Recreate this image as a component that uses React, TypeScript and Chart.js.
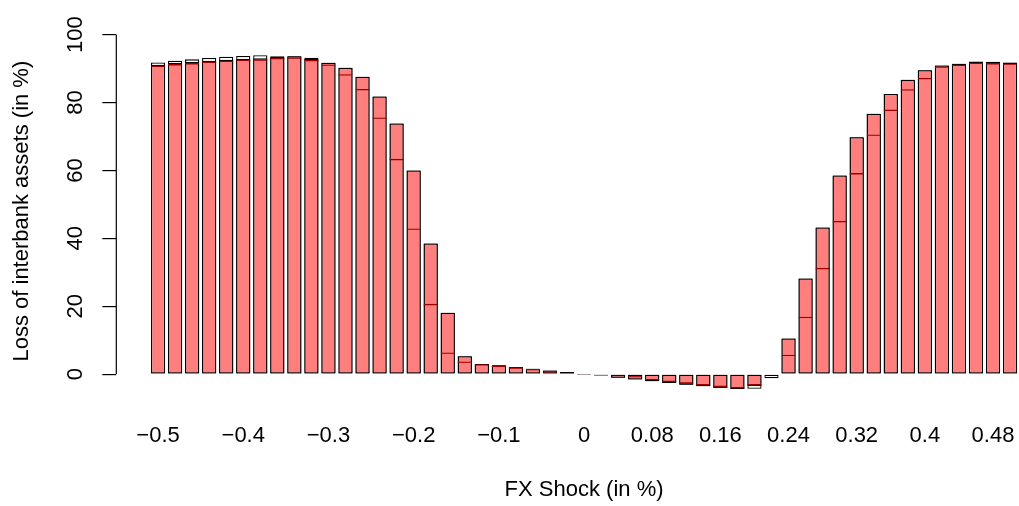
import React, { useEffect, useRef } from 'react';
import { Chart, registerables } from 'chart.js';

Chart.register(...registerables);

const shocks = [
  '−0.5', '−0.48', '−0.46', '−0.44', '−0.42', '−0.4', '−0.38', '−0.36', '−0.34', '−0.32',
  '−0.3', '−0.28', '−0.26', '−0.24', '−0.22', '−0.2', '−0.18', '−0.16', '−0.14', '−0.12',
  '−0.1', '−0.08', '−0.06', '−0.04', '−0.02', '0', '0.02', '0.04', '0.06', '0.08',
  '0.1', '0.12', '0.14', '0.16', '0.18', '0.2', '0.22', '0.24', '0.26', '0.28',
  '0.3', '0.32', '0.34', '0.36', '0.38', '0.4', '0.42', '0.44', '0.46', '0.48', '0.5',
];

const totalLoss = [
  91.8, 92.3, 92.7, 93.1, 93.5, 93.7, 93.9, 93.6, 93.6, 93.2,
  91.7, 90.2, 87.6, 81.8, 73.8, 60.0, 38.5, 18.1, 5.3, 3.0,
  2.6, 2.1, 1.6, 1.1, 0.6, -0.1, -0.4, -1.05, -1.6, -2.1,
  -2.6, -3.1, -3.6, -4.1, -4.4, -4.3, -1.2, 10.5, 28.2, 43.2,
  58.5, 69.8, 76.7, 82.5, 86.7, 89.5, 90.9, 91.4, 92.1, 92.0, 91.8,
];

const redLoss = [
  91.1, 91.6, 91.9, 92.3, 92.6, 92.9, 93.0, 93.4, 93.6, 92.8,
  91.7, 90.2, 87.6, 81.8, 73.8, 60.0, 38.5, 18.1, 5.3, 3.0,
  2.6, 2.1, 1.6, 1.1, 0.6, -0.05, -0.4, -1.05, -1.6, -2.1,
  -2.6, -3.1, -3.6, -4.1, -4.4, -3.5, 0, 10.5, 28.2, 43.2,
  58.5, 69.8, 76.7, 82.5, 86.7, 89.5, 90.9, 91.4, 91.9, 91.9, 91.7,
];

const lineLoss = [
  90.8, 91.3, 91.6, 92.0, 92.3, 92.6, 92.7, 93.1, 93.3, 92.5,
  91.2, 88.3, 84.0, 75.6, 63.4, 42.9, 20.7, 6.4, 3.7, 2.9,
  2.5, 2.0, 1.5, 0.8, 0.4, -0.05, -0.3, -0.5, -1.0, -1.8,
  -2.3, -2.8, -3.3, -3.8, -4.2, -3.3, 0, 5.7, 16.9, 31.3,
  45.1, 59.2, 70.6, 77.9, 83.9, 87.2, 90.6, 91.1, 91.7, 91.6, 91.5,
];

const xTickLabels = ['−0.5', '−0.4', '−0.3', '−0.2', '−0.1', '0', '0.08', '0.16', '0.24', '0.32', '0.4', '0.48'];
const yTickValues = [0, 20, 40, 60, 80, 100];

const FONT = '"Liberation Sans", Arial, Helvetica, sans-serif';

const yAxisLine = {
  id: 'yAxisLine',
  afterDraw(chart: any) {
    const ys = chart.scales.y;
    const ctx = chart.ctx;
    const x = chart.chartArea.left;
    ctx.save();
    ctx.strokeStyle = '#000';
    ctx.lineWidth = 1.2;
    ctx.beginPath();
    ctx.moveTo(x, ys.getPixelForValue(yTickValues[0]));
    ctx.lineTo(x, ys.getPixelForValue(yTickValues[yTickValues.length - 1]));
    ctx.stroke();
    ctx.restore();
  },
};

export default function App() {
  const ref = useRef<HTMLCanvasElement>(null);

  useEffect(() => {
    document.body.style.margin = '0';
    document.body.style.overflow = 'hidden';
    const mk = (vals: number[]) => vals.map((v, i) => ({ x: i, y: v }));
    const chart = new Chart(ref.current as HTMLCanvasElement, {
      type: 'bar',
      data: {
        datasets: [
          {
            label: 'line',
            data: mk(lineLoss),
            backgroundColor: 'rgba(0,0,0,0)',
            borderColor: '#9B0000',
            borderWidth: (c: any) => {
              const v = c.raw ? c.raw.y : 0;
              return v >= 0
                ? { top: 1.3, left: 0, right: 0, bottom: 0 }
                : { top: 0, left: 0, right: 0, bottom: 1.3 };
            },
            borderSkipped: false,
            grouped: false,
            order: 1,
          } as any,
          {
            label: 'red',
            data: mk(redLoss),
            backgroundColor: '#FF7F7F',
            borderColor: '#000000',
            borderWidth: 1.3,
            borderSkipped: false,
            grouped: false,
            order: 2,
          } as any,
          {
            label: 'total',
            data: mk(totalLoss),
            backgroundColor: '#FFFFFF',
            borderColor: '#000000',
            borderWidth: 1.3,
            borderSkipped: false,
            grouped: false,
            order: 3,
          } as any,
        ],
      },
      options: {
        responsive: false,
        animation: false,
        devicePixelRatio: 1,
        layout: { padding: { top: 9.3, right: 8.2, bottom: 0, left: 0 } },
        plugins: { legend: { display: false }, tooltip: { enabled: false } },
        datasets: { bar: { categoryPercentage: 1, barPercentage: 1 / 1.2 } },
        scales: {
          x: {
            type: 'linear',
            min: -2.45,
            max: 52.45,
            offset: false,
            grid: { display: false, drawTicks: false },
            border: { display: false },
            afterBuildTicks: (s: any) => {
              s.ticks = xTickLabels.map((l) => ({ value: shocks.indexOf(l) }));
            },
            afterFit: (s: any) => {
              s.height = 104.7;
            },
            ticks: {
              autoSkip: false,
              maxRotation: 0,
              minRotation: 0,
              padding: 21,
              color: '#000',
              font: { family: FONT, size: 22 },
              callback: (v: any) => shocks[Math.round(Number(v))],
            },
            title: {
              display: true,
              text: 'FX Shock (in %)',
              color: '#000',
              font: { family: FONT, size: 22 },
              padding: { top: 0, bottom: 3 },
            },
          },
          y: {
            type: 'linear',
            position: 'left',
            min: -8,
            max: 104,
            grid: { display: true, drawOnChartArea: false, drawTicks: true, tickLength: 14, color: '#000', lineWidth: 1.2 },
            border: { display: false },
            afterBuildTicks: (s: any) => {
              s.ticks = yTickValues.map((v) => ({ value: v }));
            },
            afterFit: (s: any) => {
              s.width = 116.3;
            },
            ticks: {
              autoSkip: false,
              minRotation: 90,
              maxRotation: 90,
              crossAlign: 'center',
              padding: 7.8,
              color: '#000',
              font: { family: FONT, size: 22 },
              callback: (v: any) => String(v),
            },
            title: {
              display: true,
              text: 'Loss of interbank assets (in %)',
              color: '#000',
              font: { family: FONT, size: 22 },
              padding: { top: 9, bottom: 0 },
            },
          },
        },
      } as any,
      plugins: [yAxisLine],
    });
    return () => chart.destroy();
  }, []);

  return (
    <div style={{ position: 'absolute', left: 0, top: 0, width: 1019, height: 506, overflow: 'hidden', background: '#fff' }}>
      <canvas ref={ref} width={1060} height={506} style={{ display: 'block' }} />
    </div>
  );
}
